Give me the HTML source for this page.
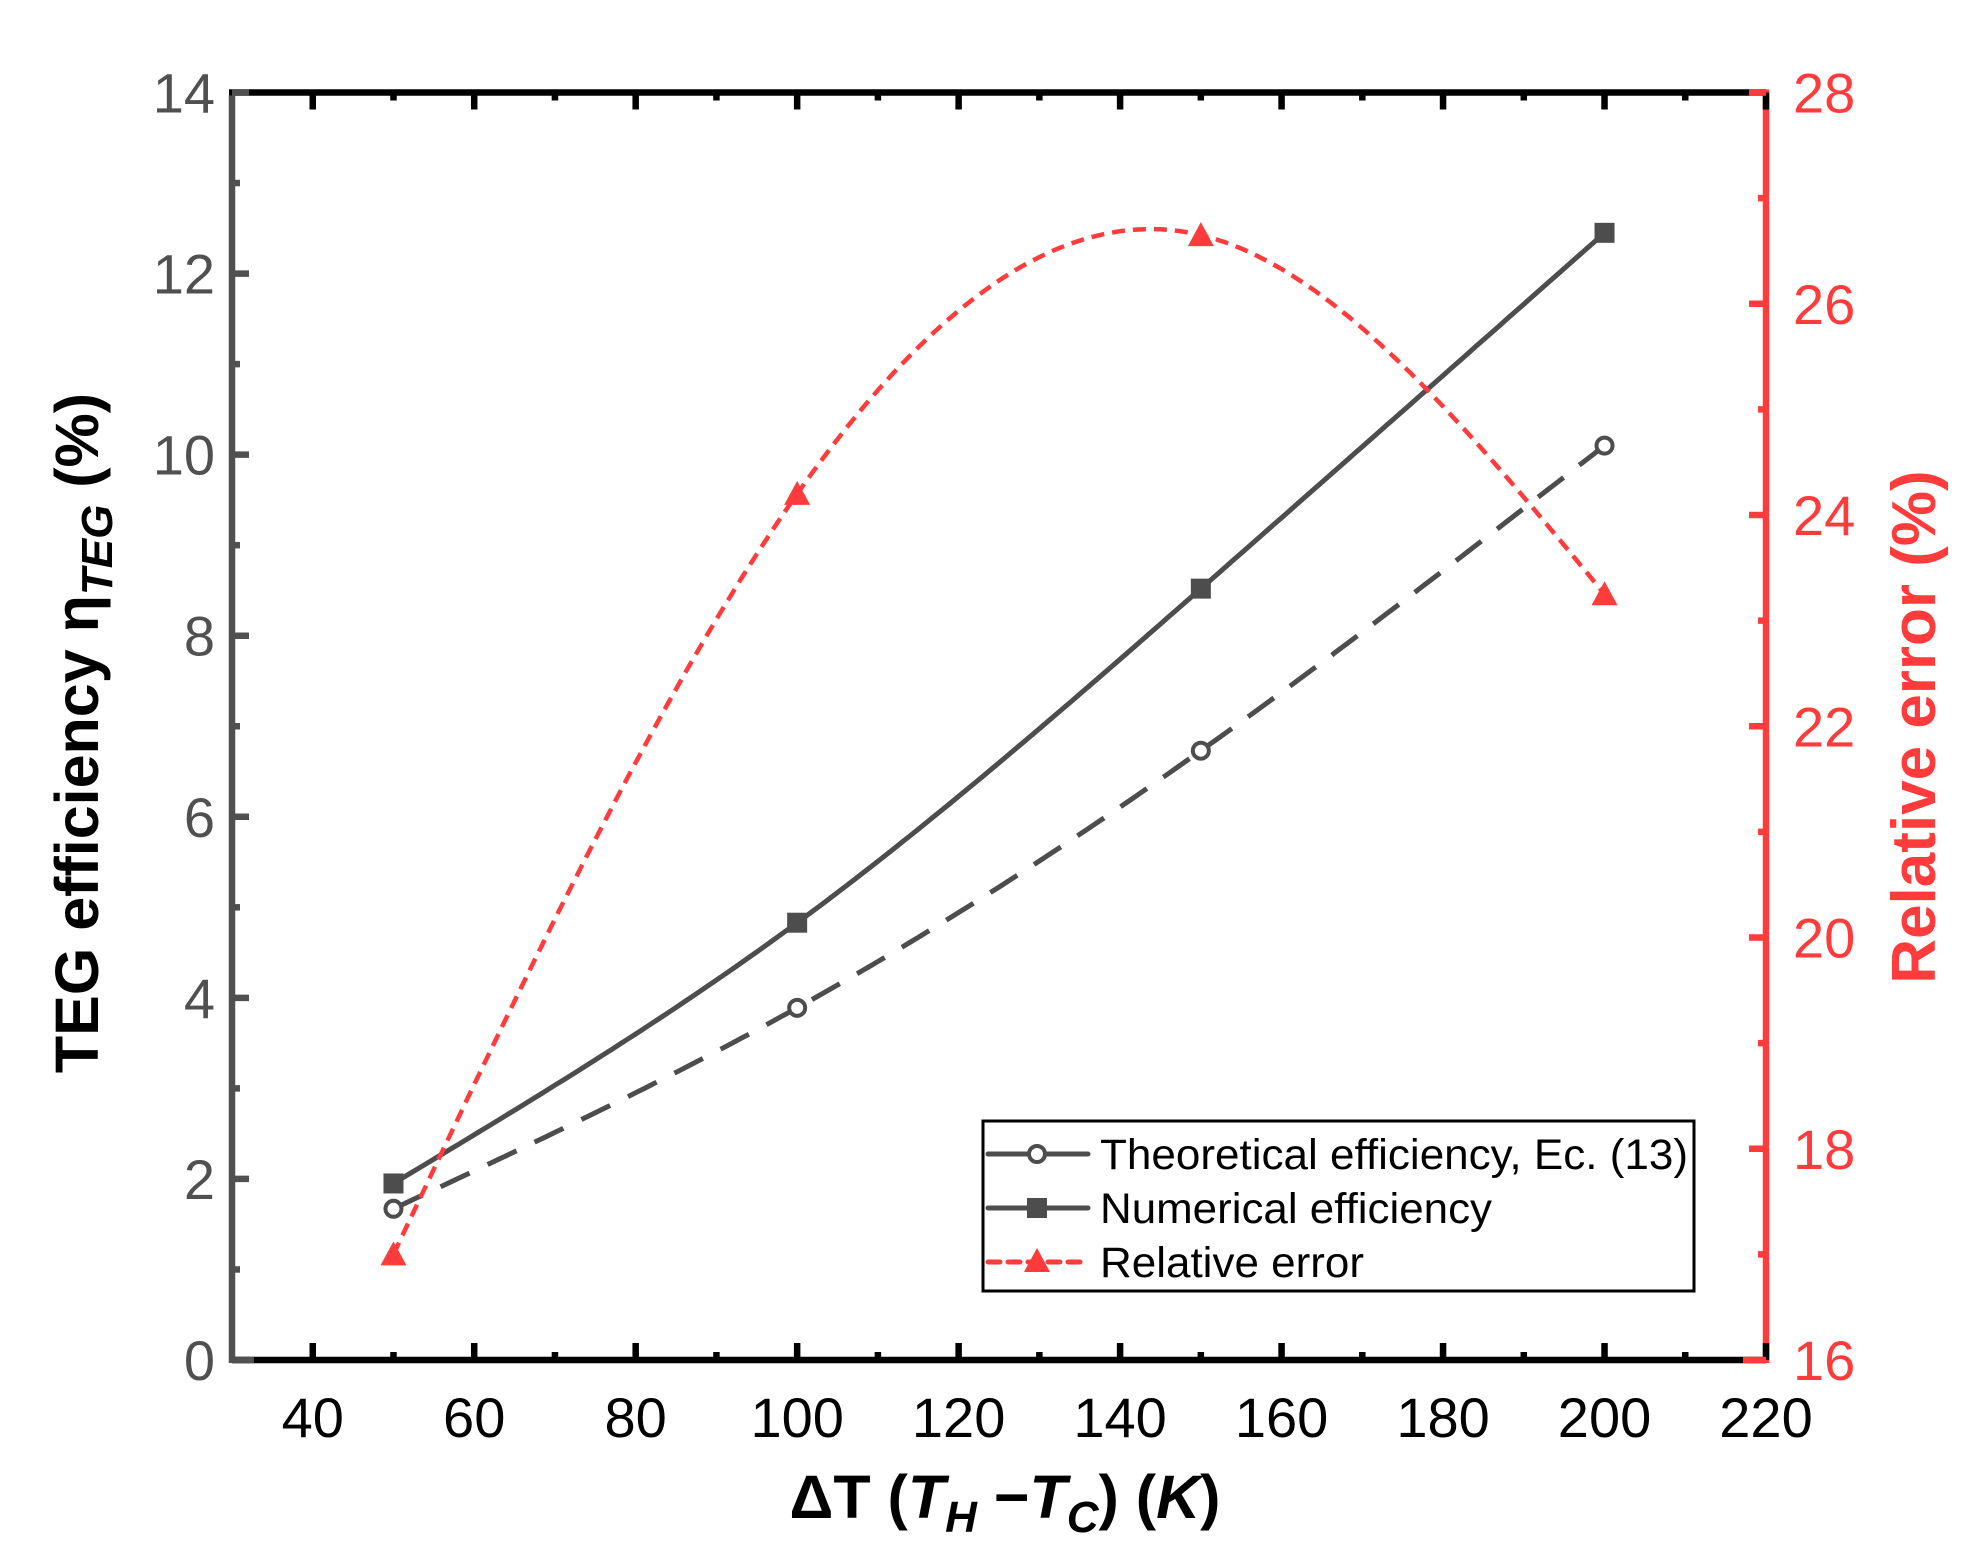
<!DOCTYPE html>
<html><head><meta charset="utf-8"><style>
html,body{margin:0;padding:0;background:#fff;}
svg{display:block;font-family:"Liberation Sans",Arial,sans-serif;}
</style></head><body>
<svg id="chart" width="1971" height="1564" viewBox="0 0 1971 1564" xmlns="http://www.w3.org/2000/svg">
<g id="marks"></g>
<g id="axes"></g>
<text transform="translate(98,733) rotate(-90)" text-anchor="middle" font-size="61" font-weight="bold" fill="#000">TEG efficiency η<tspan font-size="44" font-style="italic" dy="14">TEG</tspan><tspan dy="-14"> (%)</tspan></text>
<text transform="translate(1935,727) rotate(-90)" text-anchor="middle" font-size="62" font-weight="bold" fill="#ff3b3b">Relative error (%)</text>
<text x="1005" y="1518" text-anchor="middle" font-size="61" font-weight="bold" fill="#000">ΔT (<tspan font-style="italic">T</tspan><tspan font-style="italic" font-size="44" dy="14">H</tspan><tspan dy="-14"> −</tspan><tspan font-style="italic">T</tspan><tspan font-style="italic" font-size="44" dy="14">C</tspan><tspan dy="-14">) (</tspan><tspan font-style="italic">K</tspan>)</text>
<g>
<rect x="983" y="1121" width="711" height="170" fill="#fff" stroke="#000" stroke-width="3"/>
<line x1="988" y1="1154" x2="1088" y2="1154" stroke="#4d4d4d" stroke-width="5" stroke-linecap="round"/>
<circle cx="1037" cy="1154" r="8" fill="#fff" stroke="#4d4d4d" stroke-width="4"/>
<text x="1100" y="1169" font-size="43" textLength="588" lengthAdjust="spacingAndGlyphs" fill="#000">Theoretical efficiency, Ec. (13)</text>
<line x1="988" y1="1208" x2="1088" y2="1208" stroke="#4d4d4d" stroke-width="5" stroke-linecap="round"/>
<rect x="1027" y="1198" width="20" height="20" fill="#4d4d4d"/>
<text x="1100" y="1223" font-size="43" textLength="392" lengthAdjust="spacingAndGlyphs" fill="#000">Numerical efficiency</text>
<line x1="988" y1="1262" x2="1088" y2="1262" stroke="#ff3b3b" stroke-width="5" stroke-dasharray="12 8" stroke-linecap="round"/>
<polygon points="1037,1248 1050,1272 1024,1272" fill="#ff3b3b"/>
<text x="1100" y="1277" font-size="43" textLength="264" lengthAdjust="spacingAndGlyphs" fill="#000">Relative error</text>
</g>
</svg>
<script>
const xValues = [50, 100, 150, 200];
const theoretical = [1.67, 3.89, 6.73, 10.1];
const numerical = [1.95, 4.83, 8.52, 12.45];
const relError = [17.0, 24.2, 26.65, 23.25];
const xTicks = [40, 60, 80, 100, 120, 140, 160, 180, 200, 220];
const yTicks = [0, 2, 4, 6, 8, 10, 12, 14];
const y2Ticks = [16, 18, 20, 22, 24, 26, 28];

const L = 232, R = 1766, T = 92.5, B = 1360;
const xMin = 30, xMax = 220;
const sx = v => L + (v - xMin) / (xMax - xMin) * (R - L);
const sy = v => B - v / 14 * (B - T);
const sy2 = v => B - (v - 16) / 12 * (B - T);
const NS = 'http://www.w3.org/2000/svg';
const marks = document.getElementById('marks');
const axes = document.getElementById('axes');
function mk(tag, attrs, parent) {
  const e = document.createElementNS(NS, tag);
  for (const k in attrs) e.setAttribute(k, attrs[k]);
  parent.appendChild(e);
  return e;
}
function spline(xs, ys) {
  const n = xs.length, h = [], a = [], l = [1], mu = [0], z = [0], c = new Array(n).fill(0), b = [], d = [];
  for (let i = 0; i < n - 1; i++) h.push(xs[i + 1] - xs[i]);
  for (let i = 1; i < n - 1; i++) a[i] = 3 / h[i] * (ys[i + 1] - ys[i]) - 3 / h[i - 1] * (ys[i] - ys[i - 1]);
  for (let i = 1; i < n - 1; i++) {
    l[i] = 2 * (xs[i + 1] - xs[i - 1]) - h[i - 1] * mu[i - 1];
    mu[i] = h[i] / l[i];
    z[i] = (a[i] - h[i - 1] * z[i - 1]) / l[i];
  }
  for (let j = n - 2; j >= 0; j--) {
    c[j] = (j === 0 ? 0 : z[j]) - (j === 0 ? 0 : mu[j]) * c[j + 1];
    if (j === 0) c[0] = 0;
    b[j] = (ys[j + 1] - ys[j]) / h[j] - h[j] * (c[j + 1] + 2 * c[j]) / 3;
    d[j] = (c[j + 1] - c[j]) / (3 * h[j]);
  }
  return x => {
    let i = Math.min(n - 2, Math.max(0, xs.findIndex((v, k) => k < n - 1 && x <= xs[k + 1])));
    const dx = x - xs[i];
    return ys[i] + b[i] * dx + c[i] * dx * dx + d[i] * dx * dx * dx;
  };
}
function curve(ys, yScale, attrs, name) {
  const f = spline(xValues, ys);
  let p = '';
  const x0 = xValues[0], x1 = xValues[xValues.length - 1];
  for (let k = 0; k <= 150; k++) {
    const x = x0 + (x1 - x0) * k / 150;
    p += (k ? 'L' : 'M') + sx(x).toFixed(1) + ',' + yScale(f(x)).toFixed(1);
  }
  const e = mk('path', Object.assign({ d: p, fill: 'none' }, attrs), marks);
  
  
}
curve(theoretical, sy, { stroke: '#4d4d4d', 'stroke-width': 5, 'stroke-dasharray': '32 20' }, 'theoretical-line');
curve(numerical, sy, { stroke: '#4d4d4d', 'stroke-width': 5 }, 'numerical-line');
curve(relError, sy2, { stroke: '#ff3b3b', 'stroke-width': 4.5, 'stroke-dasharray': '13 8' }, 'relative-error-line');
xValues.forEach((x, i) => {
  const c = mk('circle', { cx: sx(x), cy: sy(theoretical[i]), r: 8, fill: '#fff', stroke: '#4d4d4d', 'stroke-width': 4 }, marks);
  
  
  const s = mk('rect', { x: sx(x) - 10, y: sy(numerical[i]) - 10, width: 20, height: 20, fill: '#4d4d4d' }, marks);
  
  
  const px = sx(x), py = sy2(relError[i]);
  const t = mk('polygon', { points: `${px},${py - 13} ${px + 13},${py + 11} ${px - 13},${py + 11}`, fill: '#ff3b3b' }, marks);
  
  
});
mk('line', { x1: L - 3, y1: T, x2: R, y2: T, stroke: '#000', 'stroke-width': 6.5 }, axes);
mk('line', { x1: L, y1: B, x2: R, y2: B, stroke: '#000', 'stroke-width': 6.5 }, axes);
mk('line', { x1: L, y1: T + 3, x2: L, y2: B + 3, stroke: '#505050', 'stroke-width': 6.5 }, axes);
mk('line', { x1: L, y1: B, x2: L + 22, y2: B, stroke: '#505050', 'stroke-width': 6.5 }, axes);
mk('line', { x1: R, y1: T - 3, x2: R, y2: B + 3, stroke: '#ff3b3b', 'stroke-width': 6.5 }, axes);
mk('line', { x1: R - 23, y1: B, x2: R, y2: B, stroke: '#ff3b3b', 'stroke-width': 6.5 }, axes);
for (let v = 40; v <= 220; v += 10) {
  const major = v % 20 === 0, len = major ? 17 : 8, x = sx(v);
  mk('line', { x1: x, y1: B, x2: x, y2: B - len, stroke: '#000', 'stroke-width': 6.5 }, axes);
  mk('line', { x1: x, y1: T, x2: x, y2: T + len, stroke: '#000', 'stroke-width': 6.5 }, axes);
}
xTicks.forEach(v => {
  const t = mk('text', { x: sx(v), y: B + 77, 'text-anchor': 'middle', 'font-size': 56, fill: '#000' }, axes);
  t.textContent = v;
  
  
});
for (let v = 0; v <= 14; v += 1) {
  const y = sy(v), len = v % 2 === 0 ? 17 : 8;
  mk('line', { x1: L, y1: y, x2: L + len, y2: y, stroke: '#505050', 'stroke-width': 6.5 }, axes);
}
yTicks.forEach(v => {
  const t = mk('text', { x: L - 17, y: sy(v) + 20, 'text-anchor': 'end', 'font-size': 56, fill: '#505050' }, axes);
  t.textContent = v;
  
  
});
for (let v = 16; v <= 28; v += 1) {
  const y = sy2(v), len = v % 2 === 0 ? 17 : 8;
  mk('line', { x1: R, y1: y, x2: R - len, y2: y, stroke: '#ff3b3b', 'stroke-width': 6.5 }, axes);
}
y2Ticks.forEach(v => {
  const t = mk('text', { x: R + 27, y: sy2(v) + 20, 'text-anchor': 'start', 'font-size': 56, fill: '#ff3b3b' }, axes);
  t.textContent = v;
  
  
});
</script>
</body></html>
